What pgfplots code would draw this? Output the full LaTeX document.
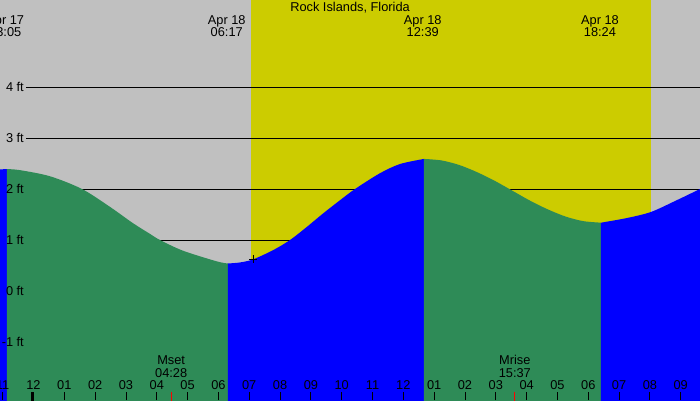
\documentclass[border=0pt]{standalone}
\usepackage{fontspec}
\setmainfont{Liberation Sans}
\usepackage{pgfplots}
\pgfplotsset{compat=1.18}
\definecolor{bggray}{HTML}{C0C0C0}
\definecolor{sunyel}{HTML}{CCCC00}
\definecolor{tgreen}{HTML}{2E8B57}
\definecolor{tblue}{HTML}{0000FF}
\begin{document}
\begin{tikzpicture}
\begin{axis}[
  at={(0,0)}, anchor=south west,
  scale only axis, width=700pt, height=400pt,
  xmin=-1.087, xmax=21.626, ymin=-2.137, ymax=5.706,
  axis background/.style={fill=bggray},
  axis line style={draw=none},
  axis on top,
  ytick=\empty,
  xtick={-1,0,...,21},
  xticklabels={11,12,01,02,03,04,05,06,07,08,09,10,11,12,01,02,03,04,05,06,07,08,09},
  xtick pos=left, tick align=inside,
  major tick length=8pt,
  every tick/.style={black, line width=0.9pt},
  xticklabel style={anchor=base, yshift=10.5pt, inner sep=0pt, font=\fontsize{12.8pt}{15pt}\selectfont},
  xticklabel shift=0pt,
  clip=true,
]
% daylight
\addplot[fill=sunyel, draw=none] coordinates {(7.057,-3) (20.036,-3) (20.036,7) (7.057,7)} -- cycle;
% level lines
\addplot[black, line width=1pt] coordinates {(-0.243,4) (21.7,4)};
\addplot[black, line width=1pt] coordinates {(-0.243,3) (21.7,3)};
\addplot[black, line width=1pt] coordinates {(-0.243,2) (21.7,2)};
\addplot[black, line width=1pt] coordinates {(-0.243,1) (21.7,1)};
\addplot[black, line width=1pt] coordinates {(-0.243,0) (21.7,0)};
\addplot[black, line width=1pt] coordinates {(-0.243,-1) (21.7,-1)};
% tide areas
\addplot[fill=tblue, draw=none] coordinates {(-1.1,2.385) (-0.86,2.39)} -- (axis cs:-0.86,-2.5) -- (axis cs:-1.1,-2.5) -- cycle;
\addplot[fill=tgreen, draw=none, smooth] coordinates {(-0.86,2.39) (-0.44,2.37) (0.535,2.25) (1.574,2.0) (2.481,1.65) (3.228,1.33) (3.78,1.12) (4.104,1.0) (4.851,0.79) (5.954,0.58) (6.31,0.54)} -- (axis cs:6.31,-2.5) -- (axis cs:-0.86,-2.5) -- cycle;
\addplot[fill=tblue, draw=none, smooth] coordinates {(6.31,0.54) (6.70,0.56) (7.122,0.62) (7.771,0.80) (8.323,1.0) (8.875,1.26) (9.394,1.52) (9.945,1.78) (10.432,2.0) (11.243,2.31) (11.892,2.49) (12.67,2.59)} -- (axis cs:12.67,-2.5) -- (axis cs:6.31,-2.5) -- cycle;
\addplot[fill=tgreen, draw=none, smooth] coordinates {(12.67,2.59) (13.245,2.56) (13.819,2.47) (14.393,2.33) (14.967,2.16) (15.542,1.965) (16.116,1.77) (16.69,1.60) (17.265,1.46) (17.839,1.37) (18.413,1.34)} -- (axis cs:18.413,-2.5) -- (axis cs:12.67,-2.5) -- cycle;
\addplot[fill=tblue, draw=none, smooth] coordinates {(18.413,1.34) (19.247,1.43) (20.036,1.55) (20.87,1.78) (21.626,2.0) (21.7,2.02)} -- (axis cs:21.7,-2.5) -- (axis cs:18.413,-2.5) -- cycle;
% special ticks
\addplot[black, line width=3pt] coordinates {(-0.02,-2.2) (-0.02,-1.98)};
\addplot[red, line width=1pt] coordinates {(4.467,-2.2) (4.467,-1.98)};
\addplot[red, line width=1pt] coordinates {(15.617,-2.2) (15.617,-1.98)};
% marker
\addplot[black, only marks, mark=+, mark size=4pt, line width=0.9pt] coordinates {(7.122,0.627)};
% texts
\begin{scope}[every node/.style={inner sep=0pt, font=\fontsize{12.8pt}{15pt}\selectfont}]
\node[anchor=base] at (axis cs:10.27,5.471) {Rock Islands, Florida};
\node[anchor=base] at (axis cs:-0.917,5.235) {Apr 17};
\node[anchor=base] at (axis cs:-0.917,5.0) {23:05};
\node[anchor=base] at (axis cs:6.27,5.235) {Apr 18};
\node[anchor=base] at (axis cs:6.27,5.0) {06:17};
\node[anchor=base] at (axis cs:12.63,5.235) {Apr 18};
\node[anchor=base] at (axis cs:12.63,5.0) {12:39};
\node[anchor=base] at (axis cs:18.38,5.235) {Apr 18};
\node[anchor=base] at (axis cs:18.38,5.0) {18:24};
\node[anchor=base] at (axis cs:4.467,-1.445) {Mset};
\node[anchor=base] at (axis cs:4.467,-1.686) {04:28};
\node[anchor=base] at (axis cs:15.617,-1.445) {Mrise};
\node[anchor=base] at (axis cs:15.617,-1.686) {15:37};
\node[anchor=east] at (axis cs:-0.308,4) {4 ft};
\node[anchor=east] at (axis cs:-0.308,3) {3 ft};
\node[anchor=east] at (axis cs:-0.308,2) {2 ft};
\node[anchor=east] at (axis cs:-0.308,1) {1 ft};
\node[anchor=east] at (axis cs:-0.308,0) {0 ft};
\node[anchor=east] at (axis cs:-0.308,-1) {-1 ft};
\end{scope}
\end{axis}
\pgfresetboundingbox
\path[use as bounding box] (0,0) rectangle (700pt,400pt);
\end{tikzpicture}
\end{document}
